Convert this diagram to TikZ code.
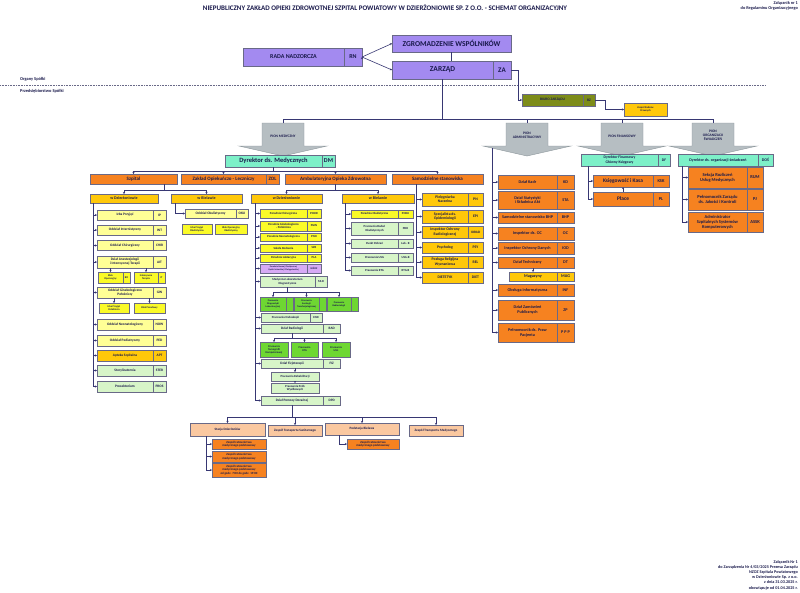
\documentclass[tikz,border=0pt]{standalone}
\usepackage{fontspec}
\setmainfont{Carlito}
\usetikzlibrary{arrows.meta,positioning}
\definecolor{inkc}{RGB}{25,25,75}
\definecolor{wirec}{RGB}{55,55,115}
\definecolor{bordc}{RGB}{105,105,135}
\definecolor{purpc}{RGB}{163,138,240}
\definecolor{olivec}{RGB}{125,140,25}
\definecolor{goldc}{RGB}{255,200,10}
\definecolor{orngc}{RGB}{246,130,32}
\definecolor{tealc}{RGB}{125,240,200}
\definecolor{lyelc}{RGB}{255,255,150}
\definecolor{yelc}{RGB}{250,250,40}
\definecolor{lgrc}{RGB}{215,245,200}
\definecolor{bgrc}{RGB}{110,215,50}
\definecolor{lavc}{RGB}{215,170,245}
\definecolor{peachc}{RGB}{250,200,160}
\definecolor{pionc}{RGB}{182,190,194}
\definecolor{pionedge}{RGB}{140,150,155}
\tikzset{
  >={Stealth[length=2pt,width=2pt]},
  fnt/.style 2 args={font=\fontsize{#1}{#2}\selectfont\bfseries},
  lbl/.style={text=inkc,inner sep=0pt},
  conn/.style={draw=wirec,line width=0.6pt},
  bx/.style={draw=bordc,line width=0.5pt,inner sep=0.3pt,outer sep=0pt,align=center,text=inkc},
  purpbox/.style={bx,fill=purpc},
  olivebox/.style={bx,fill=olivec},
  goldbox/.style={bx,fill=goldc},
  orgbox/.style={bx,fill=orngc},
  tealbox/.style={bx,fill=tealc},
  lyelbox/.style={bx,fill=lyelc},
  yelbox/.style={bx,fill=yelc},
  lgrbox/.style={bx,fill=lgrc},
  bgrbox/.style={bx,fill=bgrc},
  peachbox/.style={bx,fill=peachc},
  pionshape/.style={fill=pionc,draw=pionedge,line width=0.4pt},
  piontxt/.style={lbl,align=center,fnt={3.6}{4.1}},
  lvl/.style={orgbox,minimum height=10,fnt={5}{5.5}},
  wbox/.style={goldbox,minimum height=9,fnt={4}{4.5}},
  dep/.style={lyelbox,minimum width=56,minimum height=10,fnt={3.5}{4}},
  depc/.style={dep,minimum width=13},
  sub/.style={yelbox,minimum height=11,fnt={2.6}{3}},
  amb/.style={yelbox,minimum width=47,minimum height=8,fnt={3}{3.4}},
  ambc/.style={amb,minimum width=14},
  labbox/.style={bgrbox,minimum height=14,fnt={2.4}{2.8}},
  ss/.style={goldbox,minimum width=46,fnt={3.8}{4.3}},
  ssc/.style={ss,minimum width=15},
  ad/.style={orgbox,minimum width=59,fnt={4.2}{4.8}},
  adc/.style={ad,minimum width=17},
  og/.style={orgbox,minimum width=59,fnt={4.5}{4.9}},
  ogc/.style={og,minimum width=16},
  bt/.style={peachbox,fnt={3.3}{3.8}},
  zrm/.style={orgbox,minimum width=54,fnt={3.1}{3.5}}
}
\begin{document}
\begin{tikzpicture}[x=1pt,y=-1pt]
\useasboundingbox (0,0) rectangle (800,592);
\fill[white] (0,0) rectangle (800,592);

\node(title) at (385,8)[lbl,fnt={7}{8}]{NIEPUBLICZNY ZAKŁAD OPIEKI ZDROWOTNEJ SZPITAL POWIATOWY W DZIERŻONIOWIE SP. Z O.O. - SCHEMAT ORGANIZACYJNY};
\node(zal) at (798,1)[lbl,anchor=north east,align=right,fnt={4.3}{5.5}]{Załącznik nr 1\\do Regulaminu Organizacyjnego};
\node(organy) at (20,79)[lbl,anchor=west,fnt={4.4}{5}]{Organy Spółki};
\node(przeds) at (20,91)[lbl,anchor=west,fnt={4.4}{5}]{Przedsiębiorstwo Spółki};
\draw[draw=bordc,densely dotted,line width=0.6pt] (0,85) -- (765,85);

\node(zw) at (451.5,43.5)[purpbox,minimum width=119,minimum height=17,fnt={7.5}{8}]{ZGROMADZENIE WSPÓLNIKÓW};
\node(rn) at (293.5,57)[purpbox,minimum width=101,minimum height=18,fnt={6}{7}]{RADA NADZORCZA};
\node(rnc)[purpbox,minimum width=18,minimum height=18,fnt={6}{7},right=0pt of rn]{RN};
\node(za) at (442.5,70)[purpbox,minimum width=101,minimum height=18,fnt={7.5}{8}]{ZARZĄD};
\node(zac)[purpbox,minimum width=18,minimum height=18,fnt={7}{8},right=0pt of za]{ZA};
\node(biuro) at (552.5,100)[olivebox,minimum width=61,minimum height=12,fnt={3.6}{4}]{BIURO ZARZĄDU};
\node(bzc)[olivebox,minimum width=12,minimum height=12,fnt={3.6}{4},right=0pt of biuro]{BZ};
\node(zrp) at (645.5,109.5)[goldbox,minimum width=43,minimum height=13,fnt={2.6}{3}]{Zespół Radców\\Prawnych};

\foreach \cx/\nm in {283/pmed,527/padm,622/pfin,713/porg}{
  \draw[pionshape] (\cx-21,123) -- (\cx+21,123) -- (\cx+21,146) -- (\cx+44,146) -- (\cx,156) -- (\cx-44,146) -- (\cx-21,146) -- cycle;
  \coordinate(t\nm) at (\cx,123);
}
\node(pmed) at (283,136)[piontxt]{PION MEDYCZNY};
\node(padm) at (527,135)[piontxt]{PION\\ADMINISTRACYJNY};
\node(pfin) at (622,136)[piontxt]{PION FINANSOWY};
\node(porg) at (713,135)[piontxt]{PION\\ORGANIZACJI\\ŚWIADCZEŃ};

\node(dm) at (273.5,161)[tealbox,minimum width=97,minimum height=12,fnt={6.5}{7}]{Dyrektor ds. Medycznych};
\node(dmc)[tealbox,minimum width=13,minimum height=12,fnt={6}{7},right=0pt of dm]{DM};
\node(szp) at (133.5,179)[lvl,minimum width=87]{Szpital};
\node(zol) at (223.5,179)[lvl,minimum width=85]{Zakład Opiekuńczo - Leczniczy};
\node(zolc)[lvl,minimum width=13,right=0pt of zol]{ZOL};
\node(aoz) at (335.5,179)[lvl,minimum width=101]{Ambulatoryjna Opieka Zdrowotna};
\node(sam) at (437.5,179)[lvl,minimum width=91]{Samodzielne stanowiska};

\node(sdz) at (124,198.5)[wbox,minimum width=68]{w Dzierżoniowie};
\node(sbi) at (206.5,198.5)[wbox,minimum width=71]{w Bielawie};
\node(ip) at (125,215)[dep]{Izba Przyjęć};
\node(ipc)[depc,right=0pt of ip]{IP};
\node(int) at (125,230)[dep]{Oddział Internistyczny};
\node(intc)[depc,right=0pt of int]{INT};
\node(chir) at (125,245.5)[dep]{Oddział Chirurgiczny};
\node(chirc)[depc,right=0pt of chir]{CHIR};
\node(ait) at (125,262)[dep,minimum height=12]{Dział Anestezjologii\\i Intensywnej Terapii};
\node(aitc)[depc,minimum height=12,right=0pt of ait]{AIT};
\node(bo) at (110.5,277.5)[sub,minimum width=25]{Blok\\Operacyjny};
\node(boc)[sub,minimum width=7,right=0pt of bo]{BO};
\node(it) at (146,277.5)[sub,minimum width=24]{Intensywna\\Terapia};
\node(itc)[sub,minimum width=7,right=0pt of it]{IT};
\node(gin) at (125,292.5)[dep,minimum height=11]{Oddział Ginekologiczno\\Położniczy};
\node(ginc)[depc,minimum height=11,right=0pt of gin]{GIN};
\node(ipp) at (114,308)[sub,minimum width=30,minimum height=10]{Izba Przyjęć\\Położnicza};
\node(bp) at (149.5,308)[sub,minimum width=31,minimum height=10]{Blok Porodowy};
\node(now) at (125,324.5)[dep,minimum height=11]{Oddział Neonatologiczny};
\node(nowc)[depc,minimum height=11,right=0pt of now]{NOW};
\node(ped) at (125,340.5)[dep,minimum height=11]{Oddział Pediatryczny};
\node(pedc)[depc,minimum height=11,right=0pt of ped]{PED};
\node(apt) at (125,355.5)[dep,minimum height=11,fill=goldc]{Apteka Szpitalna};
\node(aptc)[depc,minimum height=11,fill=goldc,right=0pt of apt]{APT};
\node(ster) at (125,370.5)[dep,minimum height=11,fill=lgrc]{Sterylizatornia};
\node(sterc)[depc,minimum height=11,fill=lgrc,right=0pt of ster]{STER};
\node(pros) at (125,386.5)[dep,minimum height=11,fill=lgrc]{Prosektorium};
\node(prosc)[depc,minimum height=11,fill=lgrc,right=0pt of pros]{PROS};
\node(oku) at (210.5,213.5)[dep,minimum width=51,minimum height=9]{Oddział Okulistyczny};
\node(okuc)[depc,minimum width=12,minimum height=9,right=0pt of oku]{OKU};
\node(ipo) at (197,229)[sub,minimum width=30,minimum height=10]{Izba Przyjęć\\Okulistyczna};
\node(boo) at (231,229)[sub,minimum width=32,minimum height=10]{Blok Operacyjny\\Okulistyczny};

\node(adz) at (286.5,198.5)[wbox,minimum width=71]{w Dzierżoniowie};
\node(abi) at (378,198.5)[wbox,minimum width=72]{w Bielawie};
\node(pchir) at (283.5,213.5)[amb,minimum height=9]{Poradnia Chirurgiczna};
\node(pchirc)[ambc,minimum height=9,right=0pt of pchir]{PCHIR};
\node(pgin) at (283.5,226)[amb,minimum height=10]{Poradnia Ginekologiczno\\- Położnicza};
\node(pginc)[ambc,minimum height=10,right=0pt of pgin]{PGIN};
\node(pno) at (283.5,237)[amb]{Poradnia Neonatologiczna};
\node(pnoc)[ambc,right=0pt of pno]{PNO};
\node(szr) at (283.5,248)[amb]{Szkoła Rodzenia};
\node(szrc)[ambc,right=0pt of szr]{SZR};
\node(pla) at (283.5,258)[amb]{Poradnia Laktacyjna};
\node(plac)[ambc,right=0pt of pla]{PLA};
\node(nsoz) at (283.5,268.5)[amb,minimum height=9,fill=lavc,fnt={2.2}{2.6}]{Poradnia Nocnej i Świątecznej\\Opieki Lekarskiej i Pielęgniarskiej};
\node(nsozc)[ambc,minimum height=9,fill=lavc,fnt={2.6}{3},right=0pt of nsoz]{NiŚOZ};
\node(mld) at (287.5,281.5)[amb,fill=lgrc,minimum width=55,minimum height=11]{Medyczne Laboratorium\\Diagnostyczne};
\node(mldc)[ambc,fill=lgrc,minimum width=12,minimum height=11,right=0pt of mld]{MLD};
\node(pdl) at (273,304)[labbox,minimum width=26]{Pracownia\\Diagnostyki\\Laboratoryjnej};
\node(pdlc)[labbox,minimum width=7,right=0pt of pdl]{};
\node(pst) at (306.5,304)[labbox,minimum width=25]{Pracownia\\Serologii\\Transfuzjologicznej};
\node(pstc)[labbox,minimum width=7,right=0pt of pst]{};
\node(pbak) at (339,304)[labbox,minimum width=24]{Pracownia\\Bakteriologii};
\node(pbakc)[labbox,minimum width=7,right=0pt of pbak]{};
\node(end) at (285.5,317.5)[amb,fill=lgrc,minimum width=49,minimum height=9]{Pracownia Endoskopii};
\node(endc)[ambc,fill=lgrc,minimum width=12,minimum height=9,right=0pt of end]{END};
\node(rad) at (292,328.5)[amb,fill=lgrc,minimum width=62,minimum height=9,fnt={3.4}{4}]{Dział Radiologii};
\node(radc)[ambc,fill=lgrc,minimum width=17.5,minimum height=9,fnt={3.4}{4},right=0pt of rad]{RAD};
\node(ptk) at (274,349.5)[labbox,minimum width=28,minimum height=15,fnt={2.7}{3.1}]{Pracownia\\Tomografii\\Komputerowej};
\node(prtg) at (304.5,349.5)[labbox,minimum width=27,minimum height=15,fnt={2.7}{3.1}]{Pracownia\\RTG};
\node(pusg) at (336,349.5)[labbox,minimum width=28,minimum height=15,fnt={2.7}{3.1}]{Pracownia\\USG};
\node(fiz) at (292,363.5)[amb,fill=lgrc,minimum width=62,minimum height=9,fnt={3.4}{4}]{Dział Fizjoterapii};
\node(fizc)[ambc,fill=lgrc,minimum width=17.5,minimum height=9,fnt={3.4}{4},right=0pt of fiz]{FIZ};
\node(preh) at (295,376.5)[amb,fill=lgrc,minimum width=48,minimum height=9]{Pracownia Rehabilitacji};
\node(ppw) at (295,388)[amb,fill=lgrc,minimum width=48,minimum height=10]{Pracownia Prób\\Wysiłkowych};
\node(dpd) at (292,400.5)[amb,fill=lgrc,minimum width=62,minimum height=9,fnt={3.4}{4}]{Dział Pomocy Doraźnej};
\node(dpdc)[ambc,fill=lgrc,minimum width=17.5,minimum height=9,fnt={3.4}{4},right=0pt of dpd]{DPD};
\node(poku) at (374.5,214)[amb,minimum height=8]{Poradnia Okulistyczna};
\node(pokuc)[ambc,minimum width=15,minimum height=8,right=0pt of poku]{POKU};
\node(pbo) at (374.5,228.5)[amb,fill=lgrc,minimum height=13]{Pracownia Badań\\Okulistycznych};
\node(pboc)[ambc,fill=lgrc,minimum width=15,minimum height=13,right=0pt of pbo]{PBO};
\node(ppob) at (374.5,243.5)[amb,fill=lgrc,minimum height=9]{Punkt Pobrań};
\node(ppobc)[ambc,fill=lgrc,minimum width=15,minimum height=9,right=0pt of ppob]{Lab - B};
\node(usgb) at (374.5,257.5)[amb,fill=lgrc,minimum height=9]{Pracownia USG};
\node(usgbc)[ambc,fill=lgrc,minimum width=15,minimum height=9,right=0pt of usgb]{USG-B};
\node(rtgb) at (374.5,270.5)[amb,fill=lgrc,minimum height=9]{Pracownia RTG};
\node(rtgbc)[ambc,fill=lgrc,minimum width=15,minimum height=9,right=0pt of rtgb]{RTG-B};

\node(pn) at (445,199.5)[ss,minimum height=13]{Pielęgniarka\\Naczelna};
\node(pnc)[ssc,minimum height=13,right=0pt of pn]{PN};
\node(epi) at (445,216.5)[ss,minimum height=13]{Specjalista ds.\\Epidemiologii};
\node(epic)[ssc,minimum height=13,right=0pt of epi]{EPI};
\node(iorad) at (445,232)[ss,minimum height=12]{Inspektor Ochrony\\Radiologicznej};
\node(ioradc)[ssc,minimum height=12,fnt={3.4}{4},right=0pt of iorad]{IORAD};
\node(psy) at (445,247.5)[ss,minimum height=11]{Psycholog};
\node(psyc)[ssc,minimum height=11,right=0pt of psy]{PSY};
\node(rel) at (445,262)[ss,minimum height=12]{Posługa Religijna\\Wyznaniowa};
\node(relc)[ssc,minimum height=12,right=0pt of rel]{REL};
\node(diet) at (445,277.5)[ss,minimum height=11]{DIETETYK};
\node(dietc)[ssc,minimum height=11,right=0pt of diet]{DIET};

\node(kd) at (527.5,182)[ad,minimum height=14]{Dział Kadr};
\node(kdc)[adc,minimum height=14,right=0pt of kd]{KD};
\node(sta) at (527.5,200)[ad,minimum height=18]{Dział Statystyki\\i Składnica Akt};
\node(stac2)[adc,minimum height=18,right=0pt of sta]{STA};
\node(bhp) at (527.5,217.5)[ad,minimum height=11]{Samodzielne stanowisko BHP};
\node(bhpc)[adc,minimum height=11,right=0pt of bhp]{BHP};
\node(oc) at (527.5,233.5)[ad,minimum height=13]{Inspektor ds. OC};
\node(occ)[adc,minimum height=13,right=0pt of oc]{OC};
\node(iod) at (527.5,248)[ad,minimum height=12]{Inspektor Ochrony Danych};
\node(iodc)[adc,minimum height=12,right=0pt of iod]{IOD};
\node(dt) at (527.5,262.5)[ad,minimum height=11]{Dział Techniczny};
\node(dtc)[adc,minimum height=11,right=0pt of dt]{DT};
\node(mag) at (533,276.5)[ad,fill=goldc,minimum width=48,minimum height=9]{Magazyny};
\node(magc)[adc,fill=goldc,minimum height=9,right=0pt of mag]{MAG};
\node(inf) at (527.5,290)[ad,minimum height=12]{Obsługa informatyczna};
\node(infc)[adc,minimum height=12,right=0pt of inf]{INF};
\node(zp) at (527.5,310)[ad,minimum height=20]{Dział Zamówień\\Publicznych};
\node(zpc)[adc,minimum height=20,right=0pt of zp]{ZP};
\node(ppp) at (527.5,332.5)[ad,minimum height=19]{Pełnomocnik ds. Praw\\Pacjenta};
\node(pppc)[adc,minimum height=19,right=0pt of ppp]{P P P};

\node(df) at (619.5,160)[tealbox,minimum width=77,minimum height=12,fnt={3.8}{4.3}]{Dyrektor Finansowy\\Główny Księgowy};
\node(dfc)[tealbox,minimum width=12,minimum height=12,fnt={3.8}{4.3},right=0pt of df]{DF};
\node(ksk) at (623,181)[orgbox,minimum width=60,minimum height=12,fnt={5.4}{6}]{Księgowość i Kasa};
\node(kskc)[orgbox,minimum width=16,minimum height=12,fnt={4.4}{5},right=0pt of ksk]{KSK};
\node(pl) at (623,199)[orgbox,minimum width=60,minimum height=14,fnt={5.4}{6}]{Płace};
\node(plc)[orgbox,minimum width=16,minimum height=14,fnt={4.4}{5},right=0pt of pl]{PL};

\node(dos) at (718,160)[tealbox,minimum width=80,minimum height=12,fnt={4}{4.5}]{Dyrektor ds. organizacji świadczeń};
\node(dosc)[tealbox,minimum width=15,minimum height=12,fnt={4}{4.5},right=0pt of dos]{DOŚ};
\node(rum) at (717.5,177.5)[og,minimum height=21]{Sekcja Rozliczeń\\Usług Medycznych};
\node(rumc)[ogc,minimum height=21,right=0pt of rum]{RUM};
\node(pj) at (717.5,199.5)[og,minimum height=21]{Pełnomocnik Zarządu\\ds. Jakości i Kontroli};
\node(pjc)[ogc,minimum height=21,right=0pt of pj]{PJ};
\node(assk) at (717.5,222)[og,minimum height=20]{Administrator\\Szpitalnych Systemów\\Komputerowych};
\node(asskc)[ogc,minimum height=20,right=0pt of assk]{ASSK};

\node(stac) at (227.5,429.5)[bt,minimum width=75,minimum height=13]{Stacja Dzierżoniów};
\node(zts) at (295,430.5)[bt,minimum width=54,minimum height=11]{Zespół Transportu Sanitarnego};
\node(podb) at (362,429)[bt,minimum width=74,minimum height=12]{Podstacja Bielawa};
\node(ztm) at (436,430.5)[bt,minimum width=54,minimum height=11]{Zespół Transportu Medycznego};
\node(zrma) at (239,444)[zrm,minimum height=10]{Zespół ratownictwa\\medycznego podstawowy};
\node(zrmb) at (239,456.5)[zrm,minimum height=11]{Zespół ratownictwa\\medycznego podstawowy};
\node(zrmc) at (239,470)[zrm,minimum height=14]{Zespół ratownictwa\\medycznego podstawowy\\od godz. 7:00 do godz. 19:00};
\node(zrmd) at (373,444)[zrm,minimum width=52,minimum height=10]{Zespół ratownictwa\\medycznego podstawowy};

\node(foot) at (798,590)[lbl,anchor=south east,align=right,fnt={4.2}{5.2}]{Załącznik Nr 1\\do Zarządzenia Nr 4/03/2025 Prezesa Zarządu\\NZOZ Szpitala Powiatowego\\w Dzierżoniowie Sp. z o.o.\\z dnia 31.03.2025 r.\\obowiązuje od 01.04.2025 r.};

\path [conn,->]
  (rnc.east)      edge      (zw.west)
  (rnc.east)      edge      (za.west);
\draw[conn] (zw.south) -- (zw.south |- za.north);
\draw[conn,->] (zac.east) -- ++(7,0) |- (biuro.west);
\draw[conn,->] (bzc.east) -- ++(10,0) |- (zrp.west);
\draw[conn] (za.south) -- ++(0,40) coordinate(bus);
\draw[conn] (tpmed) -- (tpmed |- bus) -- (tporg |- bus) -- (tporg);
\draw[conn] (tpadm) -- (tpadm |- bus);
\draw[conn] (tpfin) -- (tpfin |- bus);

\foreach \n in {szp,zol,aoz,sam} \draw[conn,->] (dm.south) -- ++(0,4) -| (\n.north);
\coordinate(szpb) at ([xshift=31pt]szp.south);
\draw[conn,->] (szpb) -- ++(0,6) -| (sdz.north);
\draw[conn,->] (szpb) -- ++(0,6) -| (sbi.north);
\coordinate(sdzsp) at ([xshift=3pt]sdz.south west);
\draw[conn] (sdzsp) -- (sdzsp |- pros.west);
\foreach \n in {ip,int,chir,ait,gin,now,ped,apt,ster,pros} \draw[conn,->] (sdzsp |- \n.west) -- (\n.west);
\foreach \n in {bo,it} \draw[conn,->] (\n.north |- ait.south) -- (\n.north);
\foreach \n in {ipp,bp} \draw[conn,->] (\n.north |- gin.south) -- (\n.north);
\coordinate(sbisp) at ([xshift=4pt]sbi.south west);
\draw[conn,->] (sbisp) |- (oku.west);

\draw[conn,->] (aoz.south) -- ++(0,6) -| (adz.north);
\draw[conn,->] (aoz.south) -- ++(0,6) -| (abi.north);
\coordinate(adzsp) at ([xshift=4pt]adz.south west);
\draw[conn] (adzsp) -- (adzsp |- dpd.west);
\foreach \n in {pchir,pgin,pno,szr,pla,nsoz,mld,end,rad,fiz,dpd} \draw[conn,->] (adzsp |- \n.west) -- (\n.west);
\foreach \n in {pdl,pst,pbak} \draw[conn,->] (mld.south) -- ++(0,5.5) -| (\n.north);
\foreach \n in {ptk,prtg,pusg} \draw[conn,->] (rad.south) -- ++(0,5.5) -| (\n.north);
\draw[conn,->] (preh.north |- fiz.south) -- (preh.north);
\draw[conn,->] (preh.south) -- (ppw.north);
\coordinate(abisp) at ([xshift=3pt]abi.south west);
\draw[conn] (abisp) -- (abisp |- rtgb.west);
\foreach \n in {poku,pbo,ppob,usgb,rtgb} \draw[conn,->] (abisp |- \n.west) -- (\n.west);

\coordinate(samsp) at ([xshift=24pt]sam.south west);
\draw[conn] (samsp) -- (samsp |- diet.west);
\foreach \n in {pn,epi,iorad,psy,rel,diet} \draw[conn,->] (samsp |- \n.west) -- (\n.west);

\coordinate(admsp) at (492,148);
\draw[conn] (admsp) -- (admsp |- ppp.west);
\foreach \n in {kd,sta,bhp,oc,iod,dt,inf,zp,ppp} \draw[conn,->] (admsp |- \n.west) -- (\n.west);
\draw[conn,->] (mag.north |- dt.south) -- (mag.north);

\coordinate(finsp) at ([xshift=7pt]df.south west);
\draw[conn] (finsp) -- (finsp |- pl.west);
\foreach \n in {ksk,pl} \draw[conn,->] (finsp |- \n.west) -- (\n.west);
\draw[conn,->] (pl.north) -- (ksk.south);

\coordinate(orgsp) at ([xshift=4pt]dos.south west);
\draw[conn] (orgsp) -- (orgsp |- assk.west);
\foreach \n in {rum,pj,assk} \draw[conn,->] (orgsp |- \n.west) -- (\n.west);

\foreach \n in {stac,zts,podb,ztm} \draw[conn,->] (dpd.south) -- ++(0,12) -| (\n.north);
\coordinate(stsp) at ([xshift=16pt]stac.south west);
\draw[conn] (stsp) -- (stsp |- zrmc.west);
\foreach \n in {zrma,zrmb,zrmc} \draw[conn,->] (stsp |- \n.west) -- (\n.west);
\coordinate(podsp) at ([xshift=14pt]podb.south west);
\draw[conn,->] (podsp) |- (zrmd.west);

\end{tikzpicture}
\end{document}
